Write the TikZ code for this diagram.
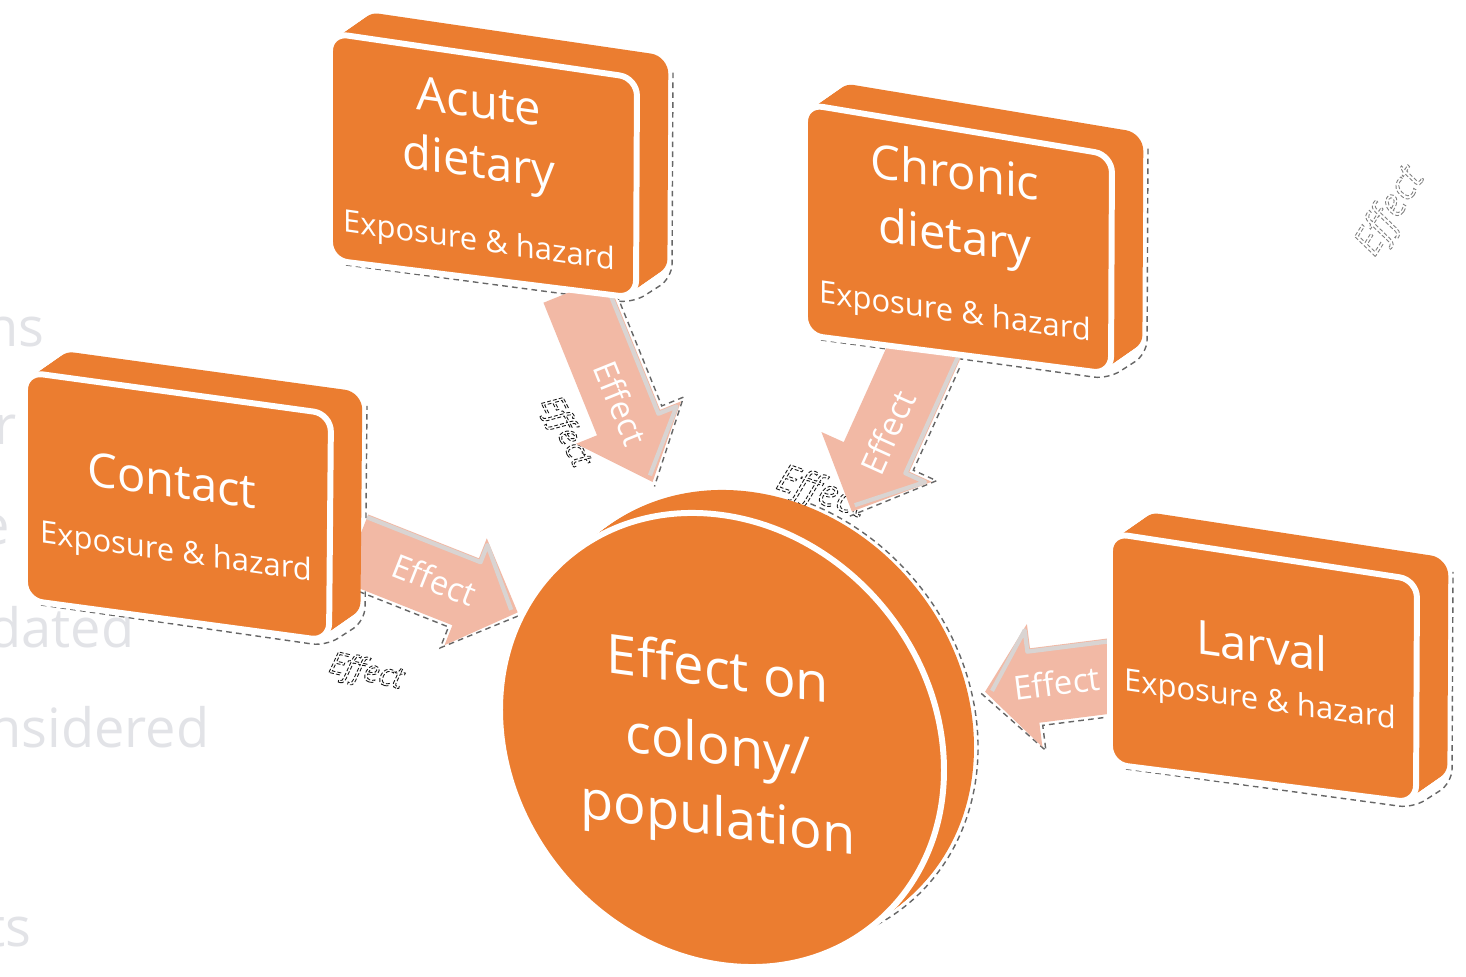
\documentclass[tikz,border=0pt]{standalone}
\usepackage{fontspec}
\setmainfont{Open Sans}
\definecolor{orng}{HTML}{EB7D30}
\definecolor{salmon}{HTML}{F2B9A5}
\definecolor{fadegray}{HTML}{E2E3E7}
\definecolor{bevelgray}{HTML}{D9D4D2}
\newcommand\ghostfx[1]{\special{pdf:literal direct 1 Tr 0.25 w [1.1 0.6] 0 d}#1\special{pdf:literal direct 0 Tr [] 0 d}}
\newcommand\cubeshadow[8]{%
  \draw[shadowdash, rounded corners=4pt] (#7+16,#8+5) -- (#5-3,#6+5) -- (#5+36,#6-20) -- (#3+36,#4-8);}
\newcommand\cube[8]{%
  \foreach \t in {0,0.05,...,1.0}{\fill[orng, rounded corners=5pt, shift={(33*\t,-23*\t)}] (#1,#2) -- (#3,#4) -- (#5,#6) -- (#7,#8) -- cycle;}
  \draw[white, line width=1.7pt, fill=orng, rounded corners=5pt] (#1,#2) -- (#3,#4) -- (#5,#6) -- (#7,#8) -- cycle;}
\newcommand\blockarrow[9]{%
  \begin{scope}[shift={(#2,#3)}, rotate=#4]
    \pgfmathsetmacro\nk{#5-#8}
    \pgfmathsetmacro\ws{#6/2}
    \pgfmathsetmacro\hs{#7/2}
    \pgfmathsetmacro\bwy{\bsign*(\ws-3)}
    \pgfmathsetmacro\bhy{\bsign*(\hs-6)}
    \pgfmathsetmacro\dwy{\dsign*(\ws+3)}
    \pgfmathsetmacro\dhy{\dsign*(\hs+4)}
    \draw[shadowdash] (10,\dwy) -- (\nk-3,\dwy) -- (\nk-3,\dhy) -- (#5+5,0);
    \fill[salmon] (0,-\ws) -- (\nk,-\ws) -- (\nk,-\hs) -- (#5,0) -- (\nk,\hs) -- (\nk,\ws) -- (0,\ws) -- cycle;
    \draw[bevel] (0,\bwy) -- (\nk+3,\bwy) -- (\nk+3,\bhy) -- (#5-7,0);
    \node[arrowtext, rotate=#9] (#1) at (\tpos*#5,0) {Effect};
  \end{scope}}
\begin{document}
\begin{tikzpicture}[x=0.01cm, y=-0.01cm,
  shadowdash/.style={draw=black!60, line width=0.4pt, dash pattern=on 1.6pt off 1.2pt},
  bevel/.style={draw=bevelgray, line width=1.2pt, line join=round},
  arrowtext/.style={text=white, font=\fontsize{9.4pt}{11pt}\selectfont, inner sep=0},
  fade/.style={text=fadegray, font=\fontsize{15.4pt}{18pt}\selectfont, inner sep=0, anchor=base east},
  ghost/.style={text=black!90, font=\itshape\fontsize{8.8pt}{10pt}\selectfont, inner sep=0},
  boxtitle/.style={text=white, font=\fontsize{13.4pt}{15pt}\selectfont, yslant=-0.14, anchor=base, inner sep=0},
  boxsub/.style={text=white, font=\fontsize{8.8pt}{10pt}\selectfont, yslant=-0.14, anchor=base, inner sep=0},
  circtext/.style={text=white, font=\fontsize{15.4pt}{18pt}\selectfont, yslant=-0.136, anchor=base, inner sep=0}]
\useasboundingbox (0,0) rectangle (1466,977);
\fill[white] (0,0) rectangle (1466,977);
% faded background text
\node[fade] (f1) at (45,347) {ns};
\node[fade] (f2) at (17,445) {r};
\node[fade] (f3) at (11,545) {e};
\node[fade] (f4) at (135,648) {dated};
\node[fade] (f5) at (210,748) {nsidered};
\node[fade] (f6) at (32,947) {ts};
% ghost outlined labels
\node[ghost, rotate=-63] (g1) at (565,432) {\ghostfx{Effect}};
\node[ghost, font=\itshape\fontsize{10.8pt}{12pt}\selectfont, rotate=-19, anchor=base west] (g2) at (774,488) {\ghostfx{Effect}};
\node[ghost, rotate=-13, anchor=base west] (g3) at (327,672) {\ghostfx{Effect}};
\node[ghost, text=black!50, font=\itshape\fontsize{11.2pt}{12pt}\selectfont, rotate=58] (g4) at (1391,212) {\ghostfx{Effect}};
% shadows
\cubeshadow{330}{33}{637}{78}{636}{298}{330}{260}
\cubeshadow{805}{104}{1112}{155}{1111}{374}{805}{335}
\cubeshadow{25}{372}{331}{414}{329}{641}{25}{600}
\cubeshadow{1110}{533}{1417}{580}{1416}{803}{1110}{764}
\begin{scope}[shift={(752,717)}, yslant=-0.136]
  \draw[shadowdash] (-75:226 and 229) arc[start angle=-75, end angle=95, x radius=226, y radius=229];
\end{scope}
% arrows
\def\bsign{-1}\def\dsign{-1}\def\tpos{0.59}
\blockarrow{eA}{575}{290}{-68}{207}{68}{113}{64}{-68}
\def\bsign{-1}\def\dsign{-1}\def\tpos{0.53}
\blockarrow{eB}{928}{343}{-114.3}{185}{72}{121}{60}{65.7}
\def\bsign{-1}\def\dsign{1}\def\tpos{0.49}
\blockarrow{eC}{355}{548}{-21.6}{175}{72}{115}{56}{-21.6}
\def\bsign{1}\def\dsign{-1}\def\tpos{0.46}
\blockarrow{eD}{1118}{675}{-172.8}{134}{75}{124}{50}{7.2}
% boxes
\cube{330}{33}{637}{78}{636}{298}{330}{260}
\cube{805}{104}{1112}{155}{1111}{374}{805}{335}
\cube{25}{372}{331}{414}{329}{641}{25}{600}
\cube{1110}{533}{1417}{580}{1416}{803}{1110}{764}
% central disc
\foreach \t in {0,0.04,...,1.0}{
  \begin{scope}[shift={(722+30*\t,740-23*\t)}, yslant=-0.136]
    \fill[orng] (0,0) ellipse [x radius=222, y radius=225];
  \end{scope}}
\begin{scope}[shift={(722,740)}, yslant=-0.136]
  \draw[white, line width=1.7pt, fill=orng] (0,0) ellipse [x radius=222, y radius=225];
\end{scope}
% texts
\node[boxtitle] (a1) at (479,118) {Acute};
\node[boxtitle] (a2) at (479,178) {dietary};
\node[boxsub] (a3) at (479,251) {Exposure \& hazard};
\node[boxtitle] (c1) at (955,189) {Chronic};
\node[boxtitle] (c2) at (955,252) {dietary};
\node[boxsub] (c3) at (955,322) {Exposure \& hazard};
\node[boxtitle] (k1) at (172,497) {Contact};
\node[boxsub] (k2) at (176,562) {Exposure \& hazard};
\node[boxtitle] (l1) at (1262,663) {Larval};
\node[boxsub] (l2) at (1260,710) {Exposure \& hazard};
\node[circtext] (e1) at (718,688) {Effect on};
\node[circtext] (e2) at (718,764) {colony/};
\node[circtext] (e3) at (718,836) {population};
\end{tikzpicture}
\end{document}
